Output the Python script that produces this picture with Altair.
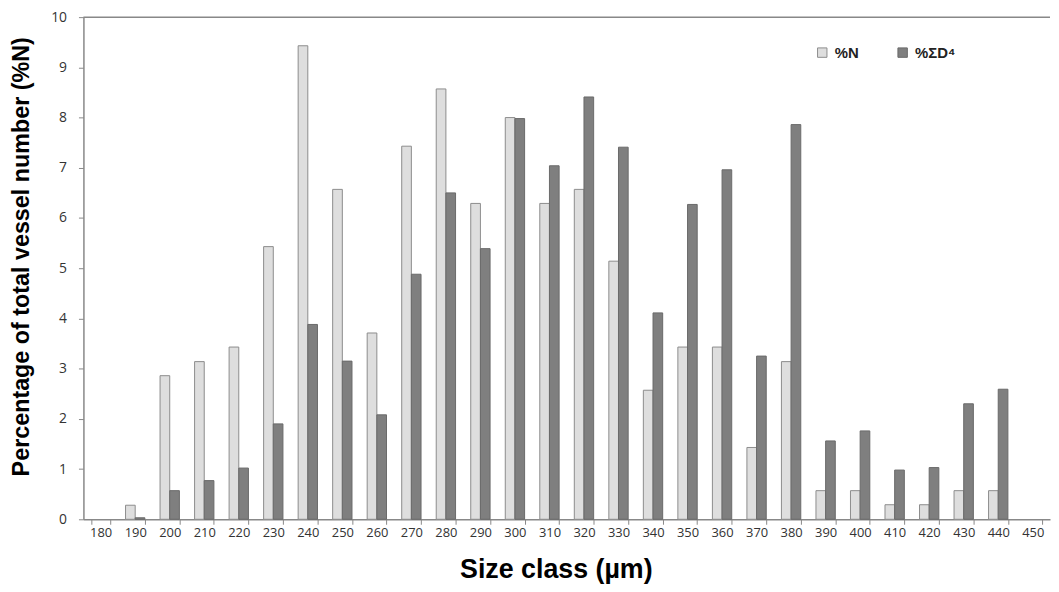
import altair as alt
import pandas as pd

size_classes = [180, 190, 200, 210, 220, 230, 240, 250, 260, 270, 280, 290, 300, 310,
                320, 330, 340, 350, 360, 370, 380, 390, 400, 410, 420, 430, 440, 450]
pct_n = [0, 0.28, 2.86, 3.14, 3.43, 5.43, 9.43, 6.57, 3.71, 7.43, 8.57, 6.29, 8.00, 6.29,
         6.57, 5.14, 2.57, 3.43, 3.43, 1.43, 3.14, 0.57, 0.57, 0.29, 0.29, 0.57, 0.57, 0]
pct_d4 = [0, 0.03, 0.57, 0.77, 1.02, 1.90, 3.88, 3.15, 2.08, 4.88, 6.50, 5.39, 7.98, 7.04,
          8.41, 7.41, 4.11, 6.27, 6.96, 3.25, 7.86, 1.56, 1.76, 0.98, 1.03, 2.30, 2.59, 0]
series_names = ["%N", "%ΣD⁴"]
y_ticks = list(range(0, 11))

rows = []
for c, n, d in zip(size_classes, pct_n, pct_d4):
    if n > 0:
        rows.append({"cls": str(c), "series": series_names[0], "value": n})
    if d > 0:
        rows.append({"cls": str(c), "series": series_names[1], "value": d})
df = pd.DataFrame(rows)

W, H = 974, 506
label_font = "Open Sans"
title_font = "Liberation Sans"

x_scale = alt.Scale(domain=[str(c) for c in size_classes], paddingInner=0.44, paddingOuter=0.22)

bars = alt.Chart(df).mark_bar(strokeWidth=1).encode(
    x=alt.X("cls:N", scale=x_scale,
            axis=alt.Axis(title="Size class (µm)", labelAngle=0, tickBand="extent",
                          tickSize=5, tickColor="#888888", domainColor="#888888", domainWidth=1.5,
                          labelFont=label_font, labelFontSize=13, labelColor="#333333",
                          labelPadding=2,
                          titleFont=title_font, titleFontSize=27, titleFontWeight="bold",
                          titleColor="#000000", titleX=476, titleY=59,
                          titleBaseline="alphabetic", titleAlign="center")),
    xOffset=alt.XOffset("series:N", scale=alt.Scale(domain=series_names, paddingInner=0, paddingOuter=0)),
    y=alt.Y("value:Q", scale=alt.Scale(domain=[0, 10], nice=False),
            axis=alt.Axis(title="Percentage of total vessel number (%N)", values=y_ticks,
                          grid=False, tickSize=5, tickColor="#888888", domainColor="#888888",
                          domainWidth=1.5, labelFont=label_font, labelFontSize=14,
                          labelColor="#333333", labelPadding=12,
                          titleFont=title_font, titleFontSize=23.5, titleFontWeight="bold",
                          titleColor="#000000", titleX=-62, titleY=241,
                          titleBaseline="middle", titleAlign="center", titleAngle=-90)),
    fill=alt.Fill("series:N", scale=alt.Scale(domain=series_names, range=["#dedede", "#7f7f7f"]),
                  legend=alt.Legend(title=None, orient="none", direction="horizontal",
                                    legendX=737, legendY=28, symbolType="square", symbolSize=90,
                                    symbolStrokeColor="#888888", symbolStrokeWidth=1,
                                    labelFont=title_font, labelFontSize=15, labelFontWeight="bold",
                                    labelColor="#222222", labelOffset=5, columnPadding=36,
                                    padding=0)),
    stroke=alt.Stroke("series:N", scale=alt.Scale(domain=series_names, range=["#8c8c8c", "#6a6a6a"]),
                      legend=None),
)

top_rule = alt.Chart(pd.DataFrame({"a": [0]})).mark_rule(color="#888888", strokeWidth=1.5).encode(
    x=alt.value(0), x2=alt.value(W), y=alt.value(0)
)

chart = alt.layer(bars, top_rule).properties(
    width=W, height=H,
    autosize=alt.AutoSizeParams(type="none"),
    padding={"left": 76, "top": 7, "right": 1, "bottom": 63},
).configure_view(strokeWidth=0)

chart.save("out.html", embed_options={"renderer": "svg", "actions": False})
